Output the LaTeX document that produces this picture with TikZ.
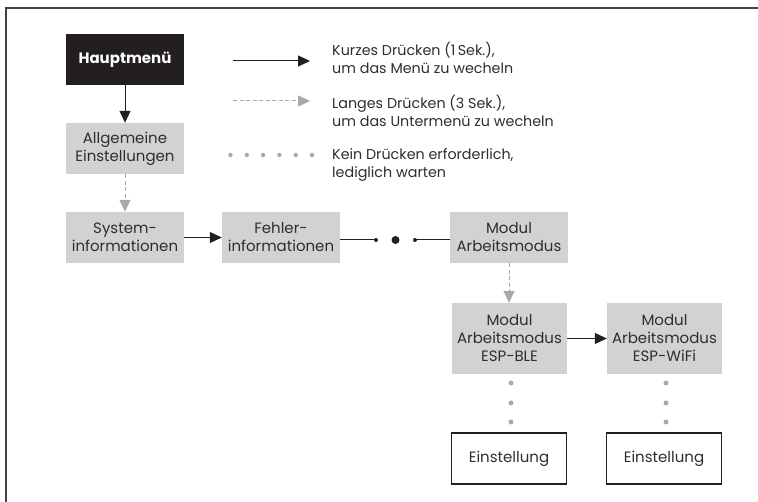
\documentclass[tikz,border=0pt]{standalone}
\usepackage{fontspec}
\setmainfont{Poppins}
\usetikzlibrary{arrows.meta}

\definecolor{boxgray}{HTML}{D1D2D4}
\definecolor{linegray}{HTML}{A7A9AC}
\definecolor{textgray}{HTML}{2E2E2E}
\definecolor{menublack}{HTML}{231F20}

\tikzset{
  menubox/.style={fill=boxgray, text=textgray, align=center, inner sep=0pt,
    minimum width=118pt, minimum height=51pt, font=\fontsize{15}{18}\selectfont},
  tallbox/.style={menubox, minimum width=115pt, minimum height=71pt},
  setbox/.style={menubox, fill=white, draw=menublack, line width=1.4pt, minimum width=115pt},
  shortpress/.style={draw=menublack, line width=1pt, -{Triangle[length=12pt,width=11pt]}},
  longpress/.style={draw=linegray, line width=1pt, dash pattern=on 4pt off 2.5pt,
    -{Triangle[length=12pt,width=11pt,fill=linegray]}},
  waitdot/.style={fill=linegray},
  legendtext/.style={anchor=west, align=left, inner sep=0pt, text=textgray,
    font=\fontsize{14.3}{17.5}\selectfont}
}

\begin{document}
\begin{tikzpicture}[x=1pt,y=1pt,yscale=-1,xscale=1]
    \useasboundingbox (0,0) rectangle (758,502);

    % frame
    \draw [menublack!85, line width=2pt] (5.5,502) -- (5.5,8) -- (758,8) ;

    % main column
    \node [menubox, fill=menublack, text=white, font=\fontsize{15}{18}\selectfont\bfseries] (haupt) at (125,59.5) {Hauptmenü};
    \node [menubox] (allg) at (125,148.5) {Allgemeine\\Einstellungen};
    \node [menubox] (sysinfo) at (125,237.5) {System-\\informationen};
    \node [menubox] (fehler) at (281,237.5) {Fehler-\\informationen};
    \node [menubox] (modul) at (509,237.5) {Modul\\Arbeitsmodus};
    \node [tallbox] (ble) at (509.5,338.5) {Modul\\Arbeitsmodus\\ESP-BLE};
    \node [tallbox] (wifi) at (664.5,338.5) {Modul\\Arbeitsmodus\\ESP-WiFi};
    \node [setbox] (setble) at (509,458.5) {Einstellung};
    \node [setbox] (setwifi) at (664,458.5) {Einstellung};

    % connectors
    \draw [shortpress] (haupt) -- (allg) ;
    \draw [longpress] (allg) -- (sysinfo) ;
    \draw [shortpress] (sysinfo) -- (fehler) ;
    \draw [longpress] (modul.south) -- (modul.south |- ble.north) ;
    \draw [shortpress] (ble) -- (wifi) ;

    % skipped entries
    \coordinate (skipa) at (376,240);
    \coordinate (skipb) at (395.5,240);
    \coordinate (skipc) at (415,240);
    \draw [menublack, line width=1pt] (fehler.east |- skipa) -- (skipa) ;
    \draw [menublack, line width=1pt] (skipc) -- (modul.west |- skipc) ;
    \fill [menublack] (skipa) circle (2pt) (skipc) circle (2pt) (skipb) circle (4pt) ;

    % waiting
    \foreach \y in {383,403,422} {
      \fill [waitdot] (511,\y) circle (2.5pt) (666,\y) circle (2.5pt) ;
    }

    % legend
    \coordinate (shortfrom) at (233,61);
    \coordinate (shortto) at (310,61);
    \coordinate (longfrom) at (233,101);
    \coordinate (longto) at (310,101);
    \draw [shortpress] (shortfrom) -- (shortto) ;
    \draw [longpress] (longfrom) -- (longto) ;
    \foreach \i in {0,...,5} {
      \fill [waitdot] (230.5+16.3*\i,155) circle (2.2pt) ;
    }
    \node [legendtext] (shorttext) at (332,58) {Kurzes Drücken (1\,Sek.),\\um das Menü zu wecheln};
    \node [legendtext] (longtext) at (332,111) {Langes Drücken (3 Sek.),\\um das Untermenü zu wecheln};
    \node [legendtext] (waittext) at (332,165) {Kein Drücken erforderlich,\\lediglich warten};

\end{tikzpicture}
\end{document}
